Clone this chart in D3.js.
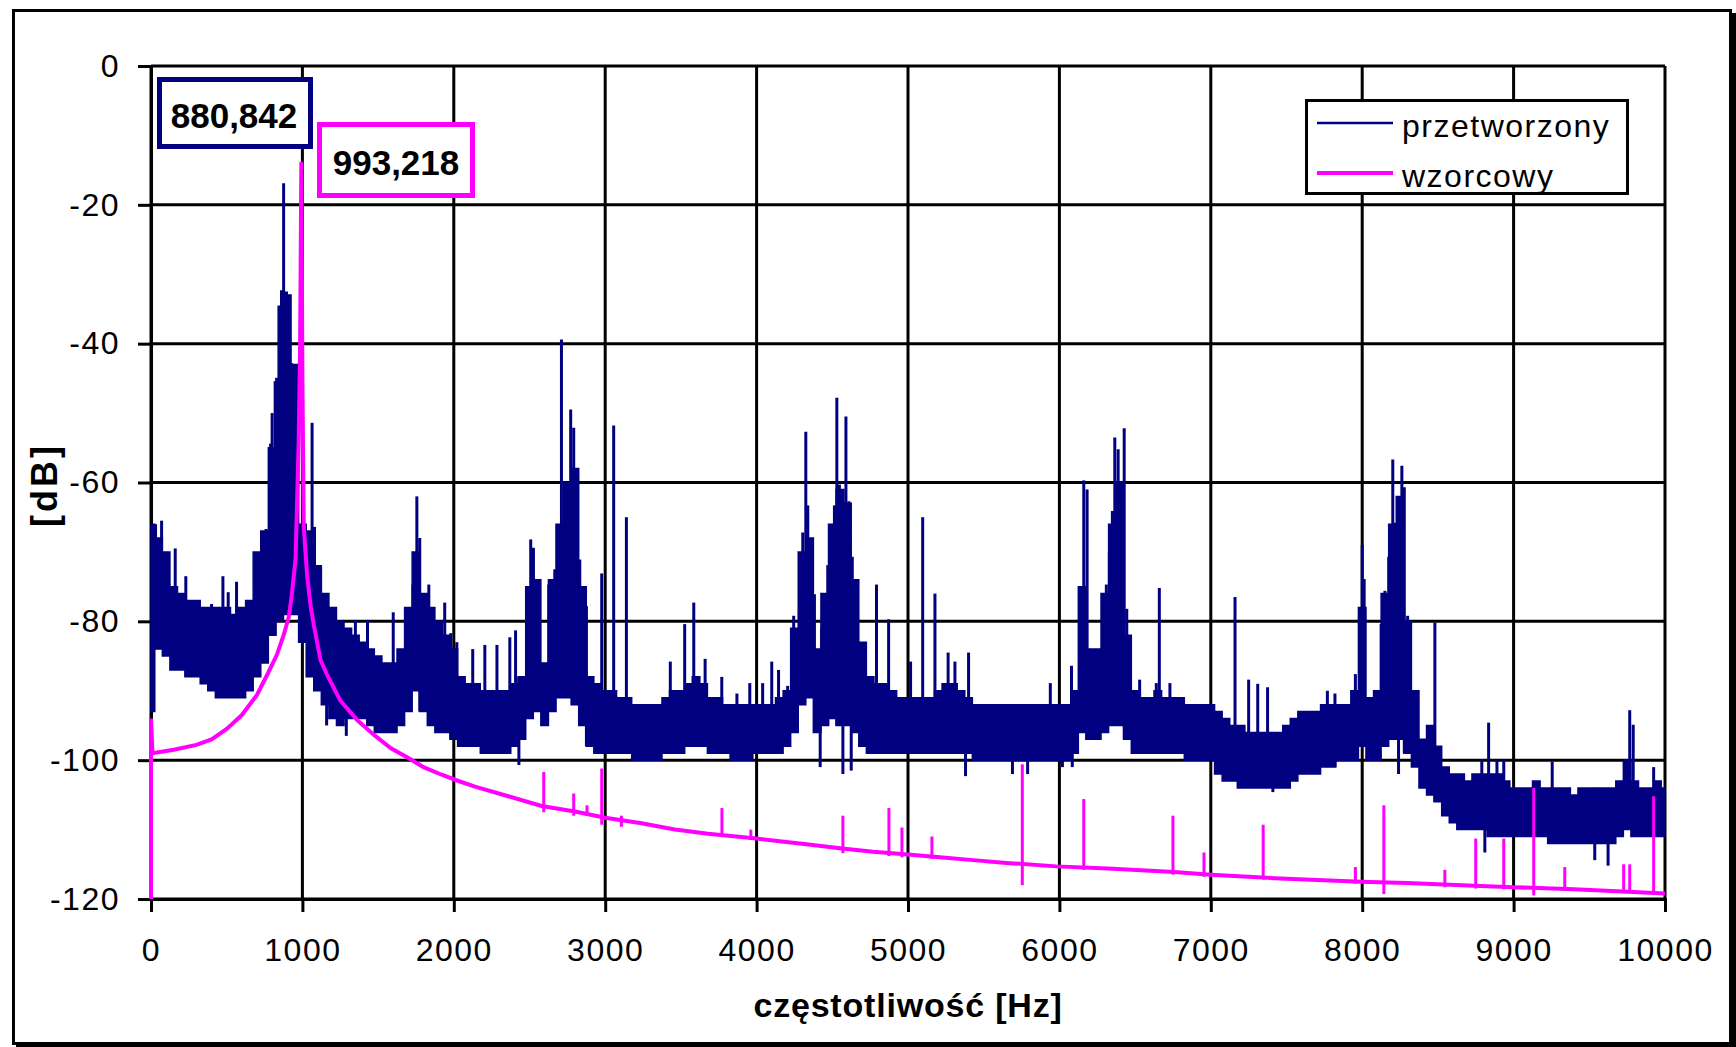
<!DOCTYPE html>
<html><head><meta charset="utf-8">
<script src="https://cdn.jsdelivr.net/npm/d3@7"></script>
<style>
body{margin:0;background:#fff;}
svg{display:block;}
text{font-family:"Liberation Sans",Arial,sans-serif;fill:#000;}
</style></head><body>
<svg id="c" width="1736" height="1047"></svg>
<script>
// ---------- data ----------
const xTicks=[0,1000,2000,3000,4000,5000,6000,7000,8000,9000,10000];
const yTicks=[0,-20,-40,-60,-80,-100,-120];
const seriesNames=["przetworzony","wzorcowy"];
const peakLabels=["880,842","993,218"];
const xTitle="częstotliwość [Hz]";
const yTitle="[dB]";

const blueFreq=[0,50,100,150,200,250,300,350,400,450,500,550,600,650,700,750,800,850,900,950,
1000,1050,1100,1150,1200,1250,1300,1350,1400,1450,1500,1550,1600,1650,1700,1750,1800,1850,1900,1950,
2000,2050,2100,2150,2200,2250,2300,2350,2400,2450,2500,2550,2600,2650,2700,2750,2800,2850,2900,2950,
3000,3050,3100,3150,3200,3250,3300,3350,3400,3450,3500,3550,3600,3650,3700,3750,3800,3850,3900,3950,
4000,4050,4100,4150,4200,4250,4300,4350,4400,4450,4500,4550,4600,4650,4700,4750,4800,4850,4900,4950,
5000,5050,5100,5150,5200,5250,5300,5350,5400,5450,5500,5550,5600,5650,5700,5750,5800,5850,5900,5950,
6000,6050,6100,6150,6200,6250,6300,6350,6400,6450,6500,6550,6600,6650,6700,6750,6800,6850,6900,6950,
7000,7050,7100,7150,7200,7250,7300,7350,7400,7450,7500,7550,7600,7650,7700,7750,7800,7850,7900,7950,
8000,8050,8100,8150,8200,8250,8300,8350,8400,8450,8500,8550,8600,8650,8700,8750,8800,8850,8900,8950,
9000,9050,9100,9150,9200,9250,9300,9350,9400,9450,9500,9550,9600,9650,9700,9750,9800,9850,9900,9950,
10000];
const blueUpper=[-66,-68,-70,-75,-76,-77,-77,-78,-78,-78,-78,-79,-78,-77,-70,-67,-55,-45,-33,-43,
-66,-67,-72,-76,-78,-80,-81,-82,-83,-84,-85,-86,-86,-84,-78,-70,-76,-78,-80,-82,
-84,-88,-89,-89,-90,-90,-90,-90,-89,-88,-75,-74,-86,-74,-66,-60,-58,-75,-88,-89,
-90,-90,-91,-91,-92,-92,-92,-92,-91,-90,-90,-89,-88,-89,-91,-91,-92,-92,-92,-92,
-92,-92,-92,-91,-90,-81,-70,-68,-84,-76,-66,-61,-63,-74,-83,-88,-89,-89,-90,-91,
-91,-91,-91,-91,-90,-89,-89,-90,-91,-92,-92,-92,-92,-92,-92,-92,-92,-92,-92,-92,
-92,-92,-90,-75,-84,-84,-76,-66,-60,-82,-90,-91,-91,-90,-91,-91,-91,-92,-92,-92,
-92,-93,-94,-95,-95,-96,-96,-96,-96,-96,-95,-94,-93,-93,-93,-92,-92,-92,-92,-90,
-78,-91,-90,-76,-66,-62,-80,-90,-97,-95,-98,-101,-102,-102,-103,-102,-102,-102,-102,-103,
-104,-104,-104,-103,-104,-104,-104,-104,-105,-104,-104,-104,-104,-104,-103,-100,-103,-104,-104,-103,
-104];
const blueLower=[-93,-84,-85,-87,-87,-88,-88,-89,-90,-91,-91,-91,-91,-90,-88,-86,-82,-80,-79,-79,
-83,-88,-90,-92,-94,-95,-94,-94,-94,-95,-96,-96,-96,-95,-93,-90,-93,-95,-96,-96,
-97,-98,-98,-98,-99,-99,-99,-99,-98,-97,-94,-93,-95,-93,-91,-91,-92,-95,-98,-99,
-99,-99,-99,-99,-100,-100,-100,-100,-99,-99,-99,-98,-98,-98,-99,-99,-99,-100,-100,-100,
-99,-99,-99,-99,-98,-96,-92,-91,-96,-95,-94,-95,-95,-96,-98,-99,-99,-99,-99,-99,
-99,-99,-99,-99,-99,-99,-99,-99,-99,-100,-100,-100,-100,-100,-100,-100,-100,-100,-100,-100,
-100,-100,-99,-96,-97,-97,-96,-95,-95,-97,-99,-99,-99,-99,-99,-99,-99,-100,-100,-100,
-100,-102,-103,-103,-104,-104,-104,-104,-104,-104,-104,-103,-102,-102,-102,-101,-101,-100,-100,-100,
-98,-100,-100,-98,-97,-97,-99,-101,-104,-105,-106,-108,-109,-110,-110,-110,-110,-111,-111,-111,
-111,-111,-111,-111,-111,-112,-112,-112,-112,-112,-112,-112,-112,-112,-111,-110,-111,-111,-111,-111,
-111];

const blueSpikeFreq=[30,70,115,160,230,400,475,510,565,735,760,790,800,820,845,862,876,884,895,905,928,948,
1020,1064,1080,1120,1350,1430,1600,1730,1756,1775,1835,1940,1980,2020,2125,2205,2285,2370,2408,2486,2508,2526,2546,
2627,2667,2689,2711,2733,2755,2772,2792,2810,2832,2854,2876,2977,3056,3140,3430,3525,3585,3660,3770,3870,3955,
4040,4100,4145,4205,4245,4283,4305,4325,4338,4360,4382,4430,4452,4470,4492,4514,4530,4547,4570,4590,4610,4632,4653,
4792,4872,5017,5097,5178,5265,5310,5400,5940,6080,6140,6161,6183,6290,6310,6330,6350,6366,6388,6428,6445,6530,6640,6660,6730,
7160,7250,7310,7375,7770,7820,7955,8000,8013,8125,8150,8175,8202,8220,8240,8262,8278,8300,8480,8790,8835,8890,8935,9255,9767,9790,9925];
const blueSpikeTop=[-66,-65.5,-72,-69.5,-73.5,-77.5,-73.5,-75.8,-74.3,-67,-66.7,-54.4,-50,-45.4,-34.5,-32.3,-16.9,-33,-32.5,-39.2,-42.8,-43.9,
-66.4,-51.4,-66.4,-72.2,-79.8,-79.8,-78.7,-74.7,-62,-68,-74.7,-77.3,-81.7,-83,-84,-83.4,-83.4,-82.3,-81.3,-78.1,-68.2,-69.4,-77.8,
-74.7,-72.5,-67.2,-39.4,-61.9,-60.5,-49.5,-52.1,-61.1,-71.1,-75.6,-77.8,-73.1,-51.8,-65,-85.8,-80.4,-77.3,-85.4,-88,-90.4,-88.9,
-88.9,-85.8,-87,-89.3,-79.2,-78.2,-67.2,-52.7,-63.3,-71.7,-76.1,-80.9,-76.1,-71.9,-68,-63.3,-47.8,-60.3,-65.8,-50.5,-62.7,-70.7,-75.2,
-74.7,-79.7,-85.8,-65,-76,-84.5,-85.8,-84.5,-88.9,-86.4,-80.9,-59.7,-61,-80.4,-74.7,-70,-64.1,-53.5,-55.2,-52.2,-78.2,-88.4,-88.9,-75.2,-88.9,
-76.5,-88.4,-89,-89.5,-90,-90.4,-87.6,-69,-73.9,-80.4,-75.6,-70.7,-56.7,-65.8,-75.2,-57.6,-60.7,-79.2,-80.2,-99.9,-94.6,-99.9,-99.9,-100.2,-92.8,-94.9,-101];

const blueDipFreq=[1160,1290,2430,4420,4570,4625,5380,5690,5790,6020,6085,7410,8240,8810,9536,9624];
const blueDipBottom=[-95,-96.5,-100.7,-101,-102,-101.5,-102.3,-102,-102,-101,-101,-104.6,-102,-113.3,-114.4,-115.2];

const pinkFreq=[0,0,10,150,300,400,500,600,700,765,830,876,910,930,955,975,985,993,1000,1009,1031,1053,1075,1120,1165,1250,1365,1475,1585,1700,1800,1920,2030,2140,2360,2580,2800,3000,3240,3460,3680,4000,4330,4550,4770,5000,5210,5430,5650,5980,6320,6760,7000,7420,7990,8300,8740,9000,9400,10000];
const pinkDb=[-120,-94,-99,-98.5,-97.8,-97,-95.5,-93.5,-90.6,-87.8,-84.9,-82,-79.4,-76.2,-71,-54.4,-40,-13.8,-45,-66.4,-73.3,-77.6,-80.5,-85.6,-87.8,-91.4,-94.3,-96.4,-98.3,-99.7,-101,-102.1,-103,-103.8,-105.2,-106.6,-107.4,-108.3,-109.1,-110,-110.6,-111.3,-112.1,-112.7,-113.2,-113.6,-114,-114.4,-114.8,-115.3,-115.6,-116.1,-116.5,-117,-117.5,-117.7,-118.1,-118.3,-118.6,-119.2];

const pinkSpikeFreq=[2594,2792,2880,2977,3107,3771,3962,4570,4874,4960,5158,5755,6161,6750,6955,7346,7955,8143,8546,8750,8935,9133,9338,9727,9767,9925];
const pinkSpikeTop=[-101.7,-104.8,-106.5,-101.2,-108,-106.9,-110,-108,-106.9,-109.7,-111,-100.6,-105.6,-108,-113.3,-109.3,-115.4,-106.5,-115.8,-111.3,-111.3,-104,-115.4,-115,-115,-105.2];
const pinkSpikeBottom=[-107.5,-108,-108,-109.3,-109.6,-111,-111.5,-113.4,-113.8,-114,-114.2,-118,-115.8,-116.5,-116.8,-117.2,-117.8,-119.3,-118.3,-118.5,-118.6,-119.5,-118.8,-119,-119,-119.3];

// ---------- layout ----------
const BLUE="#000080", PINK="#ff00ff";
const svg=d3.select("#c");
const x=d3.scaleLinear().domain([0,10000]).range([151,1665]);
const y=d3.scaleLinear().domain([-120,0]).range([899,66]);

// outer frame with shadow
svg.append("rect").attr("x",16).attr("y",13).attr("width",1720).attr("height",1034).attr("fill","#000");
svg.append("rect").attr("x",13.5).attr("y",10.5).attr("width",1717).attr("height",1033)
  .attr("fill","#fff").attr("stroke","#000").attr("stroke-width",3);

// grid
const grid=svg.append("g").attr("stroke","#000").attr("stroke-width",3);
grid.selectAll("line.h").data(yTicks).join("line").attr("class","h")
  .attr("x1",x(0)).attr("x2",x(10000)).attr("y1",d=>y(d)).attr("y2",d=>y(d));
grid.selectAll("line.v").data(xTicks).join("line").attr("class","v")
  .attr("y1",y(0)).attr("y2",y(-120)).attr("x1",d=>x(d)).attr("x2",d=>x(d));

// axes
const yAxis=svg.append("g").attr("transform",`translate(${x(0)},0)`)
  .call(d3.axisLeft(y).tickValues(yTicks).tickSize(13).tickPadding(18).tickFormat(d=>d));
const xAxis=svg.append("g").attr("transform",`translate(0,${y(-120)})`)
  .call(d3.axisBottom(x).tickValues(xTicks).tickSize(13).tickPadding(26).tickFormat(d=>d));
[yAxis,xAxis].forEach(a=>{
  a.selectAll("path.domain").attr("stroke","#000").attr("stroke-width",3);
  a.selectAll(".tick line").attr("stroke","#000").attr("stroke-width",3);
  a.selectAll(".tick text").attr("font-size",32).attr("letter-spacing","1.5px")
    .attr("font-family","'Liberation Sans',Arial,sans-serif").attr("fill","#000");
});

// blue series
const blueData=blueFreq.map((f,i)=>({f,hi:blueUpper[i],lo:blueLower[i]}));
const area=d3.area().x(d=>x(d.f)).y0(d=>y(d.lo)).y1(d=>y(d.hi)).curve(d3.curveStep);
svg.append("path").datum(blueData).attr("d",area).attr("fill",BLUE).attr("stroke",BLUE).attr("stroke-width",1.5);
const bis=d3.bisector(d=>d.f).center;
const spikes=svg.append("g").attr("stroke",BLUE).attr("stroke-width",3);
blueSpikeFreq.forEach((f,i)=>{
  const b=blueData[bis(blueData,f)];
  spikes.append("line").attr("x1",x(f)).attr("x2",x(f)).attr("y1",y(blueSpikeTop[i])).attr("y2",y(b.lo));
});
blueDipFreq.forEach((f,i)=>{
  const b=blueData[bis(blueData,f)];
  spikes.append("line").attr("x1",x(f)).attr("x2",x(f)).attr("y1",y(b.hi)).attr("y2",y(blueDipBottom[i]));
});

// pink series
const pinkData=pinkFreq.map((f,i)=>({f,v:pinkDb[i]}));
svg.append("path").datum(pinkData)
  .attr("d",d3.line().x(d=>x(d.f)).y(d=>y(d.v)))
  .attr("fill","none").attr("stroke",PINK).attr("stroke-width",4).attr("stroke-linejoin","miter");
const pspk=svg.append("g").attr("stroke",PINK).attr("stroke-width",3);
pinkSpikeFreq.forEach((f,i)=>{
  pspk.append("line").attr("x1",x(f)).attr("x2",x(f)).attr("y1",y(pinkSpikeTop[i])).attr("y2",y(pinkSpikeBottom[i]));
});

// annotations
svg.append("rect").attr("x",159.5).attr("y",79.5).attr("width",151).attr("height",67)
  .attr("fill","#fff").attr("stroke",BLUE).attr("stroke-width",5);
svg.append("text").attr("x",234).attr("y",128).attr("text-anchor","middle")
  .attr("font-size",35).attr("font-weight","bold").text(peakLabels[0]);
svg.append("rect").attr("x",319.5).attr("y",124.5).attr("width",153).attr("height",71)
  .attr("fill","#fff").attr("stroke",PINK).attr("stroke-width",5);
svg.append("text").attr("x",396).attr("y",175).attr("text-anchor","middle")
  .attr("font-size",35).attr("font-weight","bold").text(peakLabels[1]);

// legend
const lg=svg.append("g");
lg.append("rect").attr("x",1306.5).attr("y",100.5).attr("width",321).attr("height",93)
  .attr("fill","#fff").attr("stroke","#000").attr("stroke-width",3);
[[BLUE,2.5,123],[PINK,4,173]].forEach(([c,w,yy],i)=>{
  lg.append("line").attr("x1",1317).attr("x2",1393).attr("y1",yy).attr("y2",yy).attr("stroke",c).attr("stroke-width",w);
  lg.append("text").attr("x",1402).attr("y",yy+14).attr("font-size",32).attr("letter-spacing","1.5px").text(seriesNames[i]);
});

// axis titles
svg.append("text").attr("x",908).attr("y",1017).attr("text-anchor","middle")
  .attr("font-size",34).attr("font-weight","bold").attr("letter-spacing","0.8px").text(xTitle);
svg.append("text").attr("transform","translate(57,485) rotate(-90)").attr("text-anchor","middle")
  .attr("font-size",36).attr("font-weight","bold").attr("letter-spacing","3px").text(yTitle);
</script>
</body></html>
